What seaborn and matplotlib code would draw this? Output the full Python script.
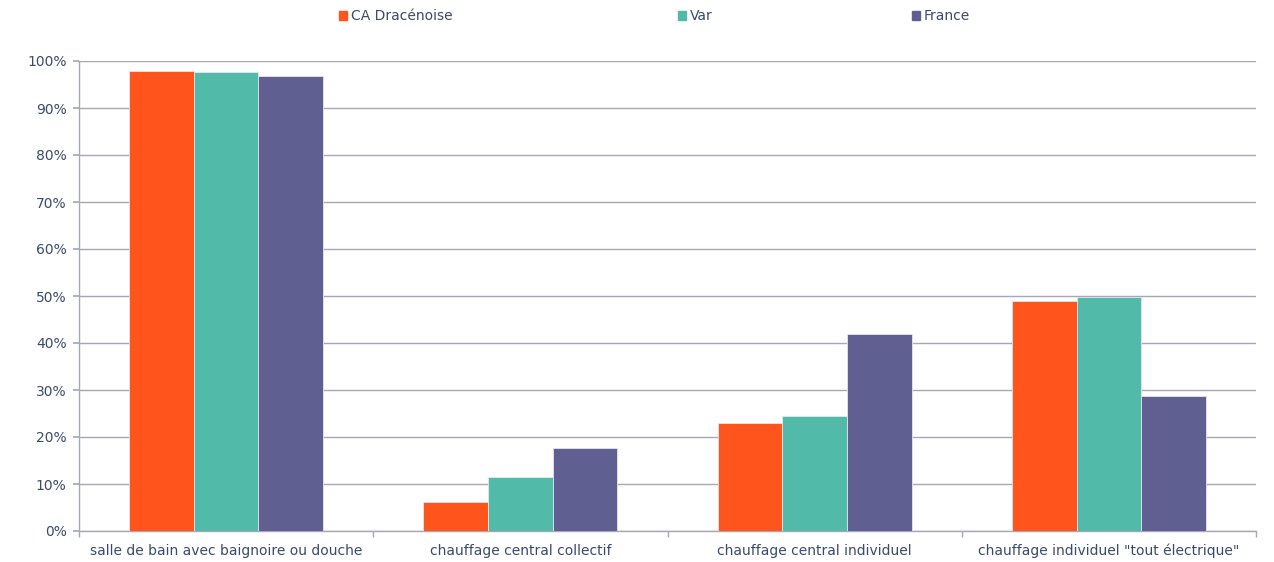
import matplotlib
matplotlib.use("Agg")
import matplotlib.pyplot as plt
import matplotlib.patches as mpatches
from matplotlib.ticker import FixedLocator, PercentFormatter
import seaborn as sns
import pandas as pd

categories = ["salle de bain avec baignoire ou douche", "chauffage central collectif",
              "chauffage central individuel", "chauffage individuel \"tout électrique\""]
series = ["CA Dracénoise", "Var", "France"]
ca_dracenoise = [97.8, 6.2, 23.0, 48.9]
var = [97.7, 11.5, 24.5, 49.8]
france = [96.8, 17.7, 41.9, 28.7]
colors = ["#FF551D", "#52BAA8", "#5F5F92"]

rows = []
for name, vals in zip(series, [ca_dracenoise, var, france]):
    for c, v in zip(categories, vals):
        rows.append({"cat": c, "serie": name, "val": v})
df = pd.DataFrame(rows)

sns.set_theme(style="white")
plt.rcParams["font.family"] = ["DejaVu Sans"]
text_color = "#3B4A6B"
grid_color = "#A6A8B8"

fig = plt.figure(figsize=(12.74, 5.62), dpi=100)
ax = fig.add_axes([79/1274, 31/562, (1256-79)/1274, (531-61)/562])

sns.barplot(data=df, x="cat", y="val", hue="serie", order=categories, hue_order=series,
            palette=colors, width=0.66, gap=0, saturation=1, ax=ax, legend=False,
            edgecolor="#E6E6EE", linewidth=0.6, zorder=3)

ax.set_ylim(0, 100)
ax.set_xlim(-0.5, 3.5)
ax.yaxis.set_major_locator(FixedLocator(range(0, 101, 10)))
ax.yaxis.set_major_formatter(PercentFormatter(decimals=0))
ax.grid(axis="y", color=grid_color, linewidth=1, zorder=0)
ax.set_axisbelow(True)
ax.set_xlabel("")
ax.set_ylabel("")
for s in ["top", "right"]:
    ax.spines[s].set_visible(False)
for s in ["left", "bottom"]:
    ax.spines[s].set_color(grid_color)
    ax.spines[s].set_linewidth(1)

ax.tick_params(axis="y", which="major", direction="out", length=4, color=grid_color,
               labelsize=10, labelcolor=text_color, pad=5, left=True)
ax.tick_params(axis="x", which="major", length=0, labelsize=10, labelcolor=text_color, pad=9)
ax.xaxis.set_minor_locator(FixedLocator([-0.5, 0.5, 1.5, 2.5, 3.5]))
ax.tick_params(axis="x", which="minor", direction="out", length=4, color=grid_color, bottom=True)

legend_x = [339/1274, 678/1274, 912/1274]
for name, col, x in zip(series, colors, legend_x):
    h = mpatches.Patch(color=col, label=name)
    fig.legend(handles=[h], loc="center left", bbox_to_anchor=(x, 1 - 16/562),
               frameon=False, fontsize=10, handlelength=0.6, handleheight=0.6,
               handletextpad=0.25, labelcolor=text_color, borderpad=0, borderaxespad=0)

fig.savefig("out.png", dpi=100)
